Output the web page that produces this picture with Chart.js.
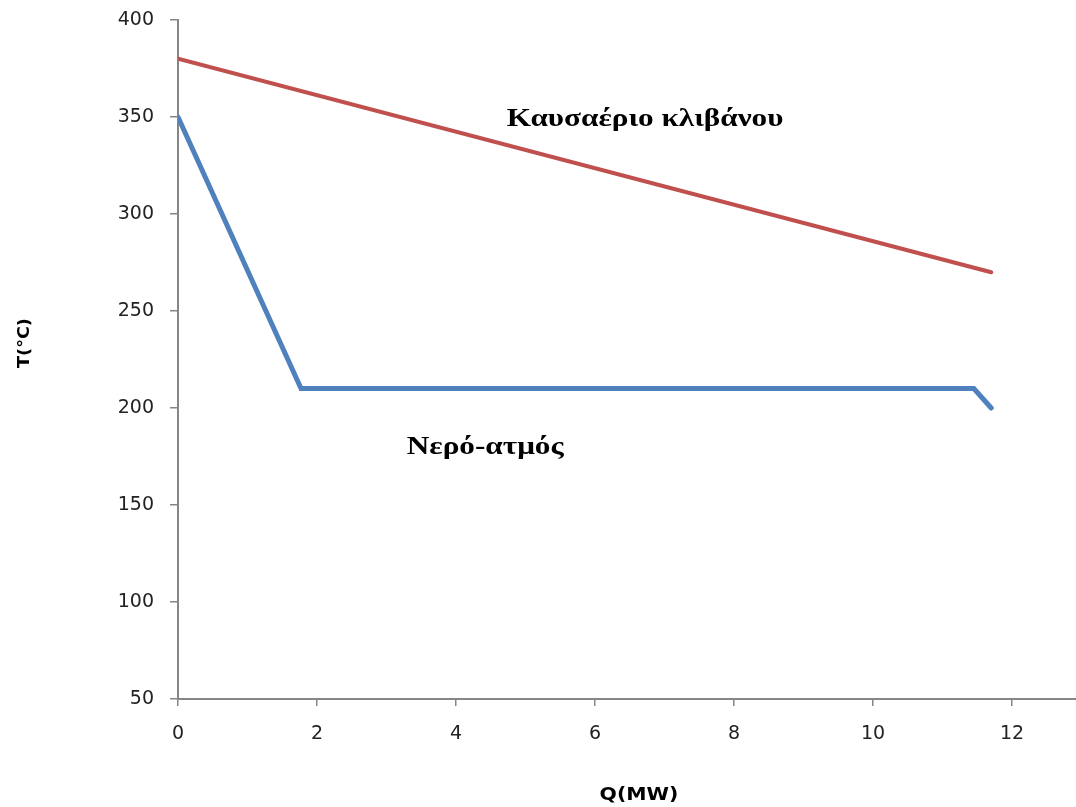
<!DOCTYPE html>
<html>
<head>
<meta charset="utf-8">
<script src="https://cdn.jsdelivr.net/npm/chart.js@4.4.1/dist/chart.umd.min.js"></script>
<style>
    html, body { margin: 0; padding: 0; background: #fff; }
    #wrap { width: 1076px; height: 807px; position: relative; }
</style>
</head>
<body>
<div id="wrap"><canvas id="chart"></canvas></div>
<script>
// Q (MW) - T (°C)
const gasQ = [0, 11.7];
const gasT = [380, 270];
const waterQ = [0, 1.77, 11.45, 11.7];
const waterT = [350, 210, 210, 200];

const gasLabel = 'Καυσαέριο κλιβάνου';
const waterLabel = 'Νερό-ατμός';
const xTitle = 'Q(MW)';
const yTitle = 'T(°C)';

const xTicks = [0, 2, 4, 6, 8, 10, 12];
const yTicks = [50, 100, 150, 200, 250, 300, 350, 400];

const AXIS = '#868686';

function toPoints(xs, ys) {
    return xs.map((x, i) => ({ x: x, y: ys[i] }));
}

// stretched text, the picture is a bit wider than tall
function stretchText(ctx, text, x, y, font, sx) {
    ctx.save();
    ctx.font = font;
    ctx.fillStyle = '#000';
    ctx.textAlign = 'center';
    ctx.textBaseline = 'middle';
    ctx.translate(x, y);
    ctx.scale(sx, 1);
    ctx.fillText(text, 0, 0);
    ctx.restore();
}

const labelsPlugin = {
    id: 'labels',
    afterDraw(chart) {
        const ctx = chart.ctx;
        const xs = chart.scales.x;
        const ys = chart.scales.y;
        // series names, placed in data space
        stretchText(ctx, gasLabel, xs.getPixelForValue(6.72), ys.getPixelForValue(349),
            'bold 26px "Liberation Serif"', 1.2);
        stretchText(ctx, waterLabel, xs.getPixelForValue(4.42), ys.getPixelForValue(180),
            'bold 26px "Liberation Serif"', 1.2);
        // axis titles
        stretchText(ctx, xTitle, 639, 796, 'bold 17px "DejaVu Sans"', 1.2);
        ctx.save();
        ctx.translate(25, 343);
        ctx.rotate(-Math.PI / 2);
        stretchText(ctx, yTitle, 0, 0, 'bold 16px "DejaVu Sans"', 1.1);
        ctx.restore();
    }
};

new Chart(document.getElementById('chart'), {
    type: 'scatter',
    data: {
        datasets: [{
            label: gasLabel,
            data: toPoints(gasQ, gasT),
            showLine: true,
            borderColor: '#C0504D',
            borderWidth: 4,
            pointRadius: 0,
            borderCapStyle: 'round'
        }, {
            label: waterLabel,
            data: toPoints(waterQ, waterT),
            showLine: true,
            borderColor: '#4F81BD',
            borderWidth: 5,
            pointRadius: 0,
            borderCapStyle: 'round'
        }]
    },
    options: {
        responsive: true,
        maintainAspectRatio: false,
        animation: false,
        layout: { padding: { top: 20, right: 0, bottom: 0, left: 0 } },
        plugins: {
            legend: { display: false },
            tooltip: { enabled: false }
        },
        scales: {
            x: {
                type: 'linear',
                min: 0,
                max: 12.92,
                afterFit(scale) {
                    scale.height = 108;
                    scale.paddingLeft = 0;
                    scale.paddingRight = 0;
                },
                afterBuildTicks(scale) { scale.ticks = xTicks.map(v => ({ value: v })); },
                border: { color: AXIS, width: 2 },
                grid: { drawOnChartArea: false, color: AXIS, tickLength: 7, lineWidth: 1.5 },
                ticks: {
                    color: '#222',
                    padding: 17,
                    maxRotation: 0,
                    font: { family: 'DejaVu Sans', size: 19 }
                }
            },
            y: {
                type: 'linear',
                min: 50,
                max: 400,
                afterFit(scale) {
                    scale.width = 178;
                    scale.paddingTop = 0;
                    scale.paddingBottom = 0;
                },
                afterBuildTicks(scale) { scale.ticks = yTicks.map(v => ({ value: v })); },
                border: { color: AXIS, width: 2 },
                grid: { drawOnChartArea: false, color: AXIS, tickLength: 8, lineWidth: 1.5 },
                ticks: {
                    color: '#222',
                    padding: 16,
                    font: { family: 'DejaVu Sans', size: 19 }
                }
            }
        }
    },
    plugins: [labelsPlugin]
});
</script>
</body>
</html>
